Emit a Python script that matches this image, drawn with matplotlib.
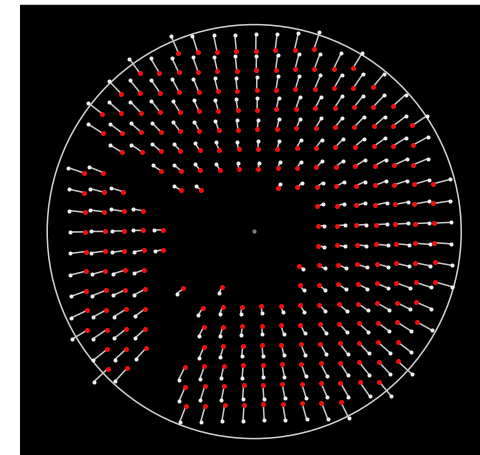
import numpy as np
import matplotlib.pyplot as plt
from matplotlib.collections import LineCollection
from matplotlib.lines import Line2D
from matplotlib.patches import Circle
from matplotlib.transforms import Affine2D

# detected target points: grid row -> inclusive spans of grid columns
grid_rows = list(range(-9, 10))
col_spans = [
    [(-3, 4)],
    [(-5, 6)],
    [(-6, 7)],
    [(-7, 8)],
    [(-7, 9)],
    [(-6, 9)],
    [(-8, -7), (-4, 9)],
    [(-8, -6), (-3, -2), (2, 10)],
    [(-8, -5), (4, 10)],
    [(-8, -4), (4, 10)],
    [(-8, -4), (4, 10)],
    [(-8, -5), (3, 10)],
    [(-8, -5), (-3, -3), (-1, -1), (3, 10)],
    [(-8, -5), (-2, 9)],
    [(-8, -5), (-2, 9)],
    [(-7, -5), (-2, 8)],
    [(-7, -6), (-3, 8)],
    [(-3, 7)],
    [(-3, 5)],
]

# measured magnification of the imaged points about the optical centre
magnification = 1.093
optical_centre = (0.709, 0.171)   # in grid units

# grid -> image pixel geometry
grid_origin = (240.2, 229.0)
col_step = (19.37, -0.49)
row_step = (0.42, 19.63)

# field stop
stop_centre = (254.2, 232.6)
stop_radius = 207.0

ref = np.array([(i, j) for j, spans in zip(grid_rows, col_spans)
                for a, b in spans for i in range(a, b + 1)], dtype=float)
c = np.array(optical_centre)
meas = c + magnification * (ref - c)

fig = plt.figure(figsize=(4.8, 4.56), dpi=100, facecolor='white')
ax = fig.add_axes([20 / 480, 0, 460 / 480, 451 / 456])
ax.set_facecolor('black')
ax.set_xlim(20, 480)
ax.set_ylim(456, 5)
ax.set_xticks([])
ax.set_yticks([])
for s in ax.spines.values():
    s.set_visible(False)

# thin grey rule along the top of the image
fig.add_artist(Line2D([20 / 480, 1], [1 - 4.5 / 456] * 2, color='#c4c4c4', lw=0.8))

to_px = Affine2D.from_values(col_step[0], col_step[1], row_step[0], row_step[1],
                             grid_origin[0], grid_origin[1])
tr = to_px + ax.transData

ax.add_patch(Circle(stop_centre, stop_radius, fill=False, ec='#d0d0d0', lw=1.1))

segs = np.stack([meas, ref], axis=1)
ax.add_collection(LineCollection(segs, colors='#c8c8c8', linewidths=1.1, transform=tr))
ax.plot(meas[:, 0], meas[:, 1], 'o', ms=2.9, mfc='#f0f0f0', mec='none', transform=tr)
ax.plot(ref[:, 0], ref[:, 1], 'o', ms=3.6, mfc='#f01010', mec='none', transform=tr)
ax.plot(*optical_centre, 'o', ms=3.0, mfc='#808080', mec='none', transform=tr)

fig.savefig('out.png', dpi=100, facecolor='white')
